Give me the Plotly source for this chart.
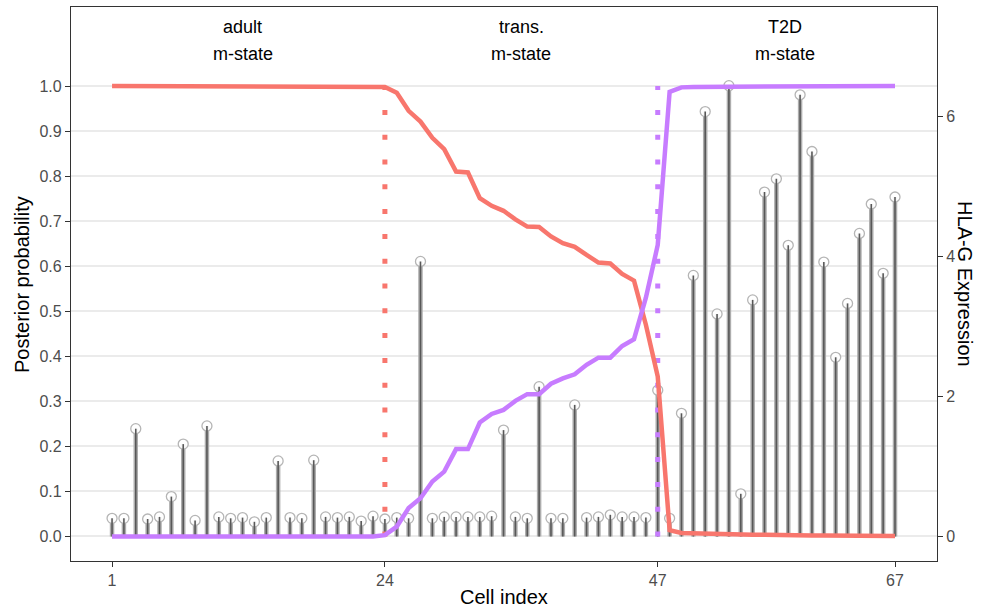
import plotly.graph_objects as go

# ---- data -------------------------------------------------------------
cells = list(range(1, 68))

hla_g_expr = [
    0.26, 0.26, 1.54, 0.25, 0.28, 0.57, 1.32, 0.23, 1.58, 0.28,
    0.26, 0.27, 0.21, 0.27, 1.08, 0.27, 0.26, 1.09, 0.28, 0.27,
    0.28, 0.22, 0.29, 0.25, 0.27, 0.26, 3.93, 0.26, 0.28, 0.28,
    0.28, 0.28, 0.29, 1.52, 0.28, 0.26, 2.14, 0.26, 0.26, 1.88,
    0.27, 0.28, 0.31, 0.28, 0.28, 0.27, 2.09, 0.26, 1.76, 3.73,
    6.07, 3.18, 6.44, 0.61, 3.38, 4.92, 5.11, 4.16, 6.31, 5.50,
    3.92, 2.56, 3.33, 4.33, 4.75, 3.76, 4.85,
]

p_adult = [
    1.000, 1.000, 1.000, 1.000, 1.000, 1.000, 1.000, 1.000, 1.000, 1.000,
    1.000, 1.000, 1.000, 1.000, 1.000, 1.000, 1.000, 0.999, 0.999, 0.999,
    0.999, 0.999, 0.999, 0.998, 0.985, 0.945, 0.921, 0.885, 0.860, 0.810,
    0.808, 0.751, 0.734, 0.723, 0.704, 0.688, 0.687, 0.666, 0.651, 0.643,
    0.625, 0.608, 0.606, 0.583, 0.568, 0.470, 0.355, 0.014, 0.008, 0.007,
    0.006, 0.006, 0.005, 0.005, 0.004, 0.004, 0.003, 0.003, 0.003, 0.002,
    0.002, 0.002, 0.001, 0.001, 0.001, 0.001, 0.001,
]

p_t2d = [
    0.000, 0.000, 0.000, 0.000, 0.000, 0.000, 0.000, 0.000, 0.000, 0.000,
    0.000, 0.000, 0.000, 0.000, 0.000, 0.000, 0.000, 0.000, 0.000, 0.000,
    0.000, 0.000, 0.000, 0.003, 0.022, 0.063, 0.085, 0.122, 0.144, 0.194,
    0.194, 0.253, 0.272, 0.281, 0.301, 0.316, 0.316, 0.339, 0.351, 0.360,
    0.381, 0.397, 0.397, 0.423, 0.438, 0.530, 0.647, 0.987, 0.997, 0.998,
    0.998, 0.998, 0.999, 0.999, 0.999, 0.999, 0.999, 0.999, 1.000, 1.000,
    1.000, 1.000, 1.000, 1.000, 1.000, 1.000, 1.000,
]

# first cell of the transitional / T2D m-states
state_breaks = [24, 47]
state_names = ["adult", "trans.", "T2D"]
state_label_x = [12, 35.5, 57.7]
x_ticks = [1, 24, 47, 67]

RED = "#F8766D"
PURPLE = "#C77CFF"
FONT = "Liberation Sans, Arial, Helvetica, sans-serif"

# ---- lollipop stems (expression axis) ---------------------------------
stem_x, stem_y = [], []
for c, v in zip(cells, hla_g_expr):
    stem_x += [c, c, None]
    stem_y += [0, v, None]

fig = go.Figure()

fig.add_trace(go.Scatter(
    x=stem_x, y=stem_y, mode="lines", yaxis="y",
    line=dict(color="#adadad", width=4.5), hoverinfo="skip", showlegend=False))
fig.add_trace(go.Scatter(
    x=cells, y=hla_g_expr, mode="markers", yaxis="y",
    marker=dict(symbol="circle", size=10, color="rgba(255,255,255,0.9)",
                line=dict(color="#b5b5b5", width=1.3)),
    showlegend=False))
fig.add_trace(go.Scatter(
    x=stem_x, y=stem_y, mode="lines", yaxis="y",
    line=dict(color="#585858", width=1.6), hoverinfo="skip", showlegend=False))

# ---- state boundaries (probability axis) ------------------------------
for b, col in zip(state_breaks, [RED, PURPLE]):
    fig.add_trace(go.Scatter(
        x=[b, b], y=[0, 1], mode="lines", yaxis="y2",
        line=dict(color=col, width=5, dash="5px,19.8px"),
        hoverinfo="skip", showlegend=False))

# ---- posterior probabilities ------------------------------------------
fig.add_trace(go.Scatter(
    x=cells, y=p_adult, mode="lines", yaxis="y2", name="adult",
    line=dict(color=RED, width=4.5), showlegend=False))
fig.add_trace(go.Scatter(
    x=cells, y=p_t2d, mode="lines", yaxis="y2", name="T2D",
    line=dict(color=PURPLE, width=4.5), showlegend=False))

# ---- state labels -----------------------------------------------------
annotations = []
for name, lx in zip(state_names, state_label_x):
    annotations.append(dict(x=lx, y=1.131, xref="x", yref="y2", text=name,
                            showarrow=False, xanchor="center", yanchor="middle",
                            font=dict(family=FONT, size=18, color="black")))
    annotations.append(dict(x=lx, y=1.070, xref="x", yref="y2", text="m-state",
                            showarrow=False, xanchor="center", yanchor="middle",
                            font=dict(family=FONT, size=18, color="black")))

# axis titles
annotations.append(dict(x=-0.0566, y=0.5, xref="paper", yref="paper",
                        text="Posterior probability", textangle=-90, showarrow=False,
                        xanchor="center", yanchor="middle",
                        font=dict(family=FONT, size=20, color="black")))
annotations.append(dict(x=1.0323, y=0.5, xref="paper", yref="paper",
                        text="HLA-G Expression", textangle=90, showarrow=False,
                        xanchor="center", yanchor="middle",
                        font=dict(family=FONT, size=20, color="black")))
annotations.append(dict(x=0.5, y=-0.065, xref="paper", yref="paper",
                        text="Cell index", showarrow=False,
                        xanchor="center", yanchor="middle",
                        font=dict(family=FONT, size=20, color="black")))

axis_common = dict(
    showline=True, linecolor="#333333", linewidth=1.3, mirror=True,
    ticks="outside", ticklen=5, tickwidth=1.2, tickcolor="#333333",
    tickfont=dict(family=FONT, size=16, color="#4D4D4D"),
    zeroline=False,
)

prob_ticks = [i / 10 for i in range(11)]

fig.update_layout(
    width=982, height=609,
    margin=dict(l=71, r=45, t=7, b=48),
    paper_bgcolor="white", plot_bgcolor="white",
    font=dict(family=FONT),
    xaxis=dict(range=[-2.46, 70.54], tickvals=x_ticks, showgrid=False,
               anchor="y", **axis_common),
    yaxis=dict(range=[-0.35, 7.564], tickvals=[0, 2, 4, 6], side="right",
               showgrid=False, **axis_common),
    yaxis2=dict(range=[-0.0544, 1.1754], tickvals=prob_ticks,
                ticktext=[f"{t:.1f}" for t in prob_ticks],
                side="left", overlaying="y", showgrid=True,
                gridcolor="#EBEBEB", gridwidth=1.5, **axis_common),
    annotations=annotations,
)

fig.write_html("out.html")
